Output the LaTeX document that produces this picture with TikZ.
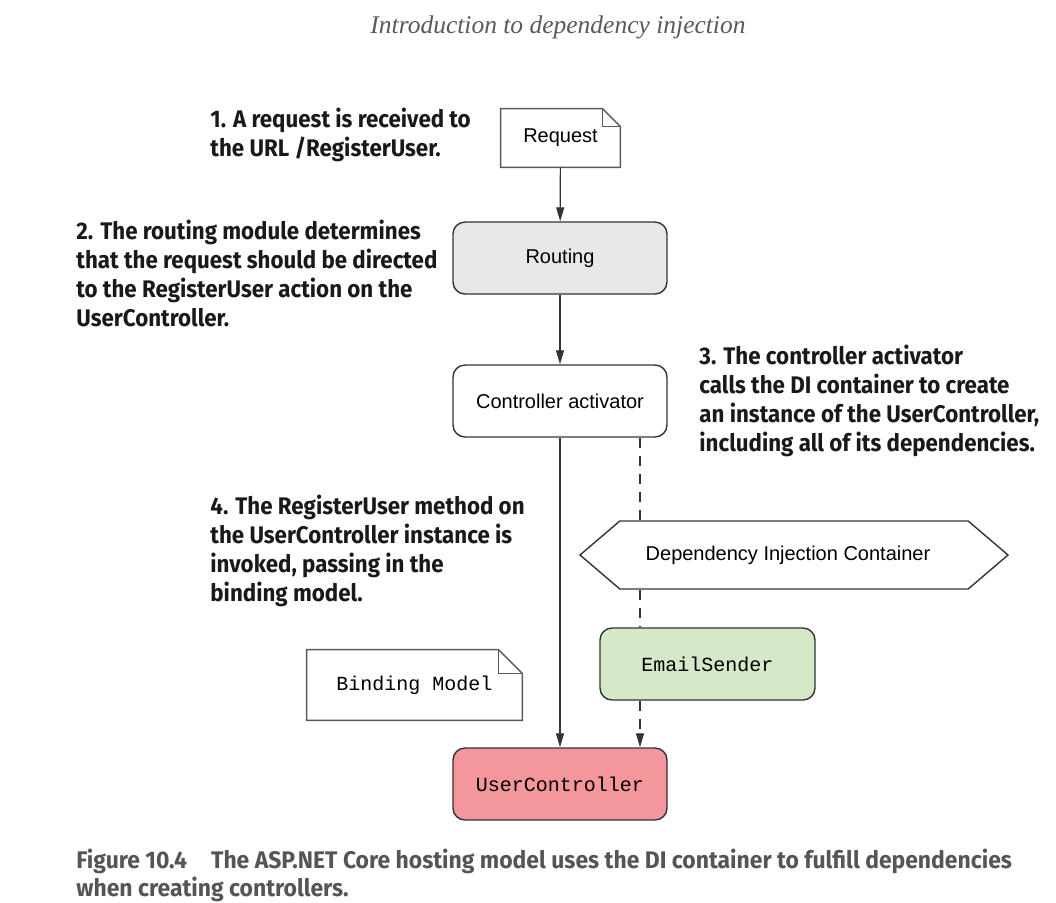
\documentclass[tikz,border=0pt]{standalone}
\usepackage{fontspec}
\setmainfont{Liberation Sans}
\newfontfamily\annfont[FakeStretch=0.93]{Fira Sans}
\newfontfamily\capfont[FakeStretch=0.955]{Fira Sans}
\newfontfamily\codefont{Liberation Mono}
\newfontfamily\headfont{Liberation Serif}
\usetikzlibrary{arrows.meta,shapes.symbols}
\definecolor{routegray}{HTML}{E8E8E8}
\definecolor{sendgreen}{HTML}{D5E8C8}
\definecolor{userred}{HTML}{F4979B}
\definecolor{edgegray}{HTML}{333333}
\definecolor{capgray}{HTML}{555555}
\tikzset{
  box/.style={draw=edgegray, line width=0.7pt, rounded corners=6pt,
    minimum width=107pt, minimum height=36pt, font=\fontsize{10}{12}\selectfont},
  notebd/.style={draw=black!65, line width=0.7pt},
  ann/.style={anchor=north west, inner sep=0pt, align=left, text=black!90,
    font=\annfont\bfseries\fontsize{12}{14.5}\selectfont},
  flow/.style={draw=edgegray, line width=0.6pt, -{Triangle[length=7pt,width=4pt]}},
  dep/.style={flow, dash pattern=on 5pt off 4pt},
}
\begin{document}
\begin{tikzpicture}[x=0.5pt, y=-0.5pt]
  \useasboundingbox (0,0) rectangle (1056,902);

  % Kopfzeile
  \node[font=\headfont\itshape\fontsize{12.75}{15}\selectfont, text=black!65] (head) at (558,27) {Introduction to dependency injection};

  % Notizen
  \node[minimum width=59.5pt, minimum height=29pt, font=\fontsize{10}{12}\selectfont] (req) at (560.5,138) {Request};
  \draw[notebd] (req.north west) -- ([xshift=-9pt]req.north east) -- ([yshift=-9pt]req.north east)
    -- (req.south east) -- (req.south west) -- cycle;
  \draw[notebd] ([xshift=-9pt]req.north east) |- ([yshift=-9pt]req.north east);

  \node[minimum width=107.5pt, minimum height=35pt, font=\codefont\fontsize{10}{12}\selectfont] (bind) at (414.5,685) {Binding Model};
  \draw[notebd] (bind.north west) -- ([xshift=-12pt]bind.north east) -- ([yshift=-12pt]bind.north east)
    -- (bind.south east) -- (bind.south west) -- cycle;
  \draw[notebd] ([xshift=-12pt]bind.north east) |- ([yshift=-12pt]bind.north east);

  % Kaesten
  \node[box, fill=routegray] (route) at (560,258) {Routing};
  \node[box, fill=white] (ctrl) at (560,401) {Controller activator};
  \node[draw=edgegray, line width=0.7pt, shape=signal, signal to=west and east, signal pointer angle=81,
    minimum width=214pt, minimum height=34pt, font=\fontsize{10}{12}\selectfont] (di) at (794,555) {Dependency Injection Container\kern6pt};
  \node[box, fill=sendgreen, minimum width=107.5pt, font=\codefont\fontsize{10}{12}\selectfont] (mail) at (707.5,664) {EmailSender};
  \node[box, fill=userred, font=\codefont\fontsize{10}{12}\selectfont] (user) at (560,784) {UserController};

  % Pfeile
  \draw[flow] (req) -- (route);
  \draw[flow] (route) -- (ctrl);
  \draw[flow] (ctrl) -- (user);
  \draw[dep, -] ([xshift=40pt]ctrl.south) -- ([xshift=40pt]ctrl.south |- di.north);
  \draw[dep, -] ([xshift=-33.75pt]mail.north |- di.south) -- ([xshift=-33.75pt]mail.north);
  \draw[dep] ([xshift=-33.75pt]mail.south) -- ([xshift=-33.75pt]mail.south |- user.north);

  % Erklaerungen
  \node[ann] (n1) at (210,108) {1. A request is received to\\the URL /RegisterUser.};
  \node[ann] (n2) at (76,220) {2. The routing module determines\\that the request should be directed\\to the RegisterUser action on the\\UserController.};
  \node[ann] (n3) at (699,345) {3. The controller activator\\calls the DI container to create\\an instance of the UserController,\\including all of its dependencies.};
  \node[ann] (n4) at (210,495) {4. The RegisterUser method on\\the UserController instance is\\invoked, passing in the\\binding model.};

  % Bildunterschrift
  \node[anchor=north west, inner sep=0pt, align=left, text=capgray,
    font=\capfont\bfseries\fontsize{12}{14}\selectfont] (cap) at (76,849)
    {Figure 10.4\hspace{1em}The ASP.NET Core hosting model uses the DI container to fulfill dependencies\\when creating controllers.};
\end{tikzpicture}
\end{document}
